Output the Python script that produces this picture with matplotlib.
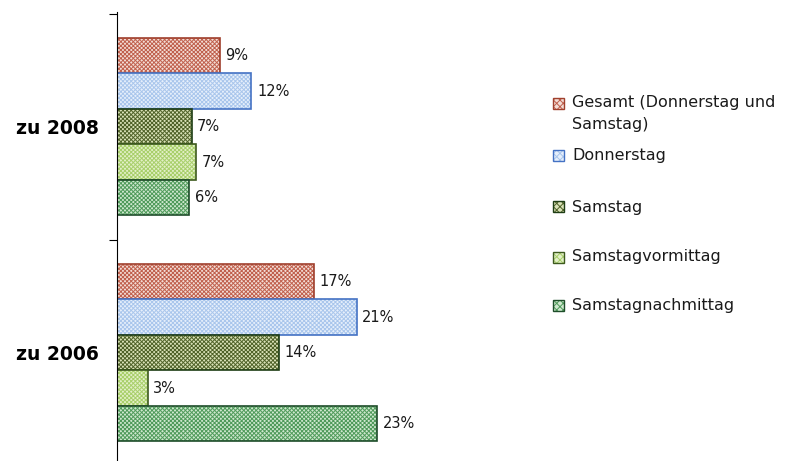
import matplotlib.pyplot as plt
import numpy as np
from matplotlib.patches import Rectangle

# ============================================================
# DATA
# ============================================================

groups = ["zu 2008", "zu 2006"]
series = ["Gesamt (Donnerstag und\nSamstag)", "Donnerstag", "Samstag",
          "Samstagvormittag", "Samstagnachmittag"]

gesamt = [9.1, 17.4]
donnerstag = [11.9, 21.2]
samstag = [6.6, 14.3]
vormittag = [7.0, 2.7]
nachmittag = [6.4, 23.0]

values = [gesamt, donnerstag, samstag, vormittag, nachmittag]

# ============================================================
# STYLE
# ============================================================

face_colors = ["#f3ddd6", "#e6effb", "#d9e2b8", "#e3f0c8", "#cfe8cf"]
hatch_colors = ["#c0604d", "#a9c6ec", "#4f6228", "#a8cf6a", "#4f9a5a"]
edge_colors = ["#a0402d", "#4472c4", "#1e3d14", "#3d5a1e", "#1e4d2a"]

plt.rcParams["font.family"] = ["DejaVu Sans"]
plt.rcParams["hatch.linewidth"] = 0.7

fig = plt.figure(figsize=(7.85, 4.61), dpi=100)
ax = fig.add_axes([117 / 785, 0.0, 300 / 785, 449 / 461])

bar_h = 0.157
centers = np.arange(len(groups))

for i, vals in enumerate(values):
    y = centers + (i - 2) * bar_h
    ax.barh(y, vals, height=bar_h, color=face_colors[i],
            edgecolor=hatch_colors[i], hatch="xxxxxxxx", linewidth=0)
    ax.barh(y, vals, height=bar_h, fill=False,
            edgecolor=edge_colors[i], linewidth=1.2)
    for yy, v in zip(y, vals):
        ax.text(v + 0.5, yy, f"{v:.0f}%", va="center", ha="left",
                fontsize=10.5, color="#1a1a1a")

ax.set_xlim(0, 300 / 11.3)
ax.set_ylim(1.48, -0.507)

ax.set_yticks(centers)
ax.set_yticklabels(groups, fontsize=13.5, fontweight="bold")
ax.tick_params(axis="y", which="major", length=0, pad=13)
ax.set_yticks([-0.5, 0.5], minor=True)
ax.tick_params(axis="y", which="minor", length=6, width=0.8)
ax.set_xticks([])

for side in ["top", "right", "bottom"]:
    ax.spines[side].set_visible(False)
ax.spines["left"].set_linewidth(0.8)

# ============================================================
# LEGEND
# ============================================================

legend_y = [104, 155, 207, 257, 305]
for i, name in enumerate(series):
    yy = 1 - legend_y[i] / 461
    fig.add_artist(Rectangle((553 / 785, yy - 5.5 / 461), 11 / 785, 11 / 461,
                             transform=fig.transFigure, facecolor=face_colors[i],
                             edgecolor=hatch_colors[i], hatch="xxxxx", linewidth=0))
    fig.add_artist(Rectangle((553 / 785, yy - 5.5 / 461), 11 / 785, 11 / 461,
                             transform=fig.transFigure, fill=False,
                             edgecolor=edge_colors[i], linewidth=1))
    if i == 0:
        fig.text(572 / 785, yy + 9 / 461, name, va="top", ha="left",
                 fontsize=11.5, color="#1a1a1a", linespacing=1.6)
    else:
        fig.text(572 / 785, yy, name, va="center", ha="left",
                 fontsize=11.5, color="#1a1a1a")

fig.savefig("out.png", dpi=100)
